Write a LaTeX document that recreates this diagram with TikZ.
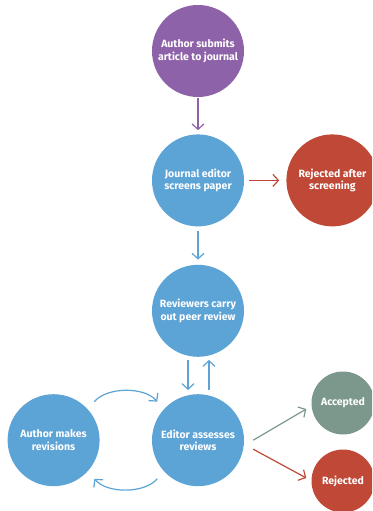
\documentclass[tikz,border=0pt]{standalone}
\usepackage{fontspec}
\setmainfont{Fira Sans}
\usepackage{tikz}
\usetikzlibrary{positioning,arrows.meta}
\usepackage{xcolor}
\definecolor{subpurple}{RGB}{142,98,168}
\definecolor{revblue}{RGB}{92,163,214}
\definecolor{rejred}{RGB}{191,72,54}
\definecolor{accgreen}{RGB}{124,152,140}

\begin{document}
\begin{tikzpicture}[
    x=1pt, y=1pt,
    node distance=37pt and 42pt,
    stage/.style={circle, minimum size=92pt, inner sep=0pt, text=white, align=center, font=\bfseries\fontsize{10.5}{12.5}\selectfont},
    outcome/.style={circle, minimum size=63pt, inner sep=0pt, text=white, align=center, font=\bfseries\fontsize{10.5}{12.5}\selectfont},
    arrow/.style={line width=1.2pt, -{Straight Barb[length=5.5pt, width=12pt]}}
]

\useasboundingbox (0,0) rectangle (372,-511);
\clip (0,0) rectangle (372,-511);

% submission and screening
\node (submit) [stage, fill=subpurple] at (198,-51) {Author submits\\article to journal};
\node (screen) [stage, fill=revblue, below=of submit] {Journal editor\\screens paper};
\node (rejscreen) [stage, fill=rejred, right=of screen] {Rejected after\\screening};

% peer review
\node (review) [stage, fill=revblue, below=38pt of screen] {Reviewers carry\\out peer review};
\node (assess) [stage, fill=revblue, below=of review] {Editor assesses\\reviews};
\node (revise) [stage, fill=revblue, left=52pt of assess] {Author makes\\revisions};

% decisions
\node (accepted) [outcome, fill=accgreen] at (343,-403) {Accepted};
\node (rejected) [outcome, fill=rejred] at (343,-481) {Rejected};

% arrows
\draw [arrow, subpurple, shorten <=1pt, shorten >=4pt] (submit) -- (screen);
\draw [arrow, rejred, shorten <=5pt, shorten >=7pt] (screen) -- (rejscreen);
\draw [arrow, revblue, shorten <=4pt, shorten >=5pt] (screen) -- (review);
\draw [arrow, revblue, shorten <=3pt, shorten >=4pt] ([xshift=-10pt]review.south) -- ([xshift=-10pt]assess.north);
\draw [arrow, revblue, shorten <=4pt, shorten >=3pt] ([xshift=11pt]assess.north) -- ([xshift=11pt]review.south);
\draw [arrow, revblue, shorten <=10pt, shorten >=10pt] (revise.42) to[bend left=50] (assess.138);
\draw [arrow, revblue, shorten <=10pt, shorten >=10pt] (assess.222) to[bend left=50] (revise.318);
\draw [arrow, accgreen] ([xshift=9pt]assess.east) -- ([shift={(-5pt,-6pt)}]accepted.west);
\draw [arrow, rejred] ([shift={(9pt,-9pt)}]assess.east) -- ([shift={(-5pt,3pt)}]rejected.west);

\end{tikzpicture}
\end{document}
